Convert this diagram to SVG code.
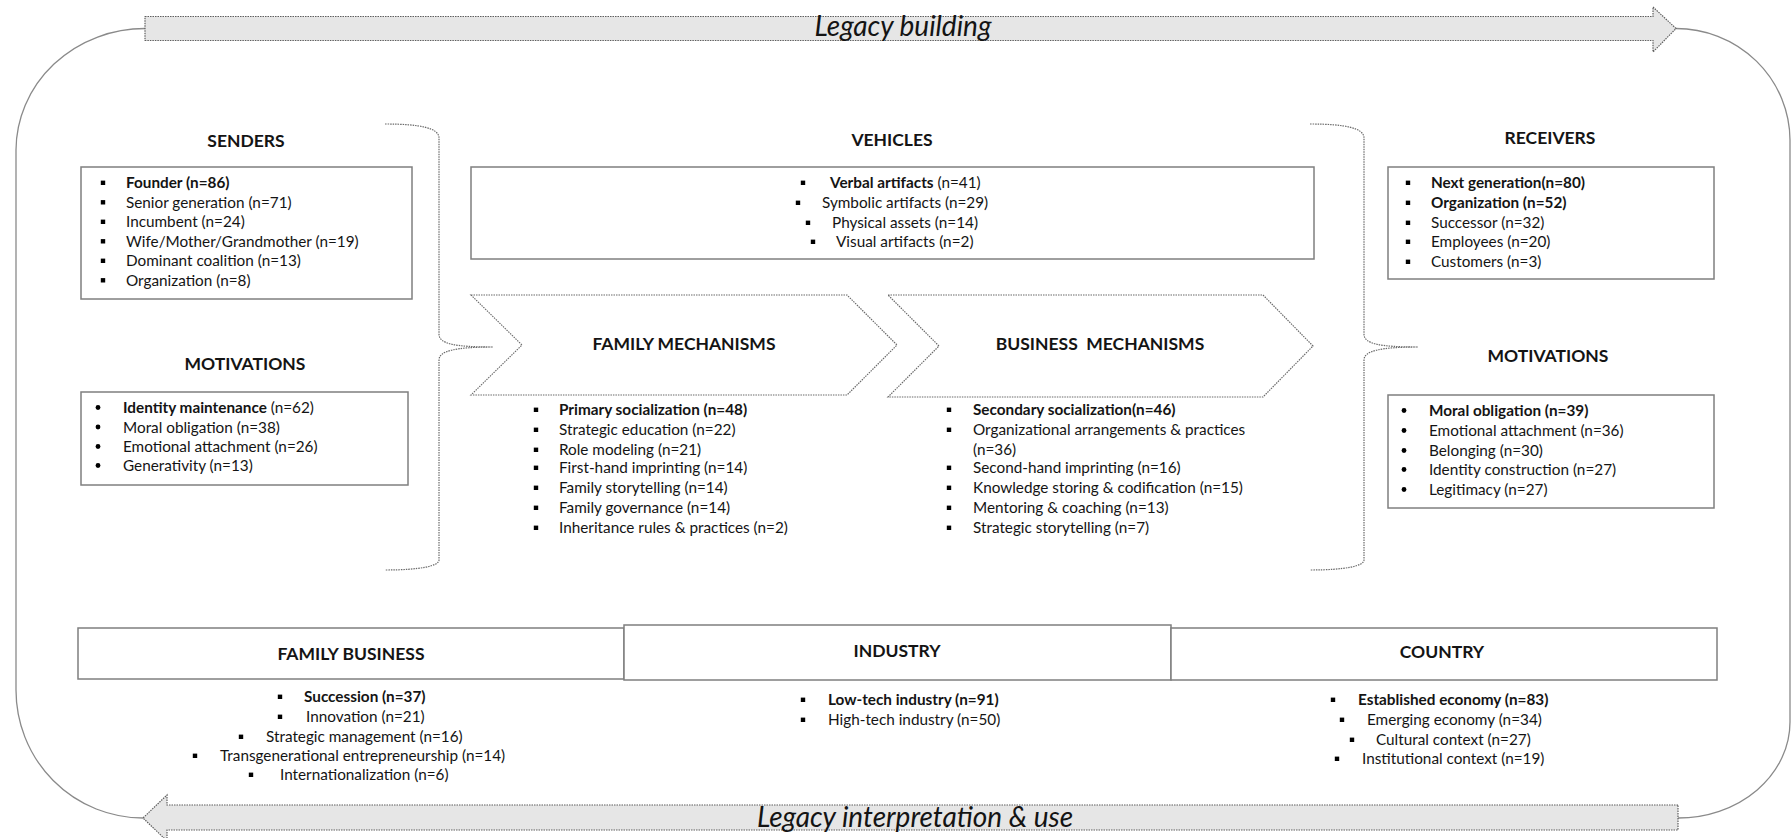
<svg xmlns="http://www.w3.org/2000/svg" width="1792" height="838" viewBox="0 0 1792 838">
<style>
  text { font-family: Lato, "Liberation Sans", sans-serif; fill: #141414; }
  .t { font-size: 15.3px; }
  .b { font-weight: bold; }
  .h { font-size: 17.5px; font-weight: bold; text-anchor: middle; }
  .lbl { font-size: 28px; font-style: italic; text-anchor: middle; }
  .box { fill: #ffffff; stroke: #7f7f7f; stroke-width: 1.5; }
  .chev { fill: #ffffff; stroke: #6a6a6a; stroke-width: 1.2; stroke-dasharray: 1.5 1; }
  .arrow { fill: #e6e6e6; stroke: #5f5f5f; stroke-width: 1.2; stroke-dasharray: 1.5 1; }
  .loop { fill: none; stroke: #8a8a8a; stroke-width: 1.3; }
  .brace { fill: none; stroke: #6a6a6a; stroke-width: 1.2; stroke-dasharray: 1.5 1; }
  .sq { fill: #000000; }
</style>
<defs>
  <rect id="sqb" class="sq" x="-2.2" y="-7.4" width="4.4" height="4.4"/>
  <circle id="rdb" class="sq" cx="0" cy="-5.5" r="2.4"/>
</defs>
<rect width="1792" height="838" fill="#ffffff"/>

<g id="connectors">
  <path class="loop" d="M145,28.5 A129,122 0 0 0 16,150 L16,690 A127,128 0 0 0 143,818"/>
  <path class="loop" d="M1676,28.5 A114,112 0 0 1 1790,140 L1790,722 A112,96 0 0 1 1678,818"/>
  <path class="brace" d="M385,124 C420,124 439,128 439,138 L439,334 C439,344 455,347 493,347 C455,347 439,351 439,360 L439,560 C439,566 420,570 385,570"/>
  <path class="brace" d="M1310,124 C1345,124 1364,128 1364,138 L1364,334 C1364,344 1380,347 1418,347 C1380,347 1364,351 1364,360 L1364,560 C1364,566 1345,570 1310,570"/>
</g>

<g id="legacy-building">
  <polygon class="arrow" points="145,16.5 1653,16.5 1653,7 1676,28.5 1653,52 1653,40.5 145,40.5"/>
  <text class="lbl" x="903" y="36">Legacy building</text>
</g>

<g id="legacy-interpretation">
  <polygon class="arrow" points="1678,805 167,805 167,795 143,818 167,841 167,830 1678,830"/>
  <text class="lbl" x="915" y="827">Legacy interpretation &amp; use</text>
</g>

<g id="senders">
  <text class="h" x="246" y="147">SENDERS</text>
  <rect class="box" x="81" y="167" width="331" height="132"/>
  <use href="#sqb" x="103" y="188"/><text class="t b" x="126" y="188">Founder (n=86)</text>
  <use href="#sqb" x="103" y="207.5"/><text class="t" x="126" y="207.5">Senior generation (n=71)</text>
  <use href="#sqb" x="103" y="227"/><text class="t" x="126" y="227">Incumbent (n=24)</text>
  <use href="#sqb" x="103" y="246.5"/><text class="t" x="126" y="246.5">Wife/Mother/Grandmother (n=19)</text>
  <use href="#sqb" x="103" y="266"/><text class="t" x="126" y="266">Dominant coalition (n=13)</text>
  <use href="#sqb" x="103" y="285.5"/><text class="t" x="126" y="285.5">Organization (n=8)</text>
</g>

<g id="sender-motivations">
  <text class="h" x="245" y="370">MOTIVATIONS</text>
  <rect class="box" x="81" y="392" width="327" height="93"/>
  <use href="#rdb" x="98" y="413"/><text class="t" x="123" y="413"><tspan class="b">Identity maintenance</tspan> (n=62)</text>
  <use href="#rdb" x="98" y="432.5"/><text class="t" x="123" y="432.5">Moral obligation (n=38)</text>
  <use href="#rdb" x="98" y="452"/><text class="t" x="123" y="452">Emotional attachment (n=26)</text>
  <use href="#rdb" x="98" y="471"/><text class="t" x="123" y="471">Generativity (n=13)</text>
</g>

<g id="vehicles">
  <text class="h" x="892" y="146">VEHICLES</text>
  <rect class="box" x="471" y="167" width="843" height="92"/>
  <use href="#sqb" x="803" y="188"/><text class="t" x="830" y="188"><tspan class="b">Verbal artifacts</tspan> (n=41)</text>
  <use href="#sqb" x="798" y="208"/><text class="t" x="822" y="208">Symbolic artifacts (n=29)</text>
  <use href="#sqb" x="808" y="228"/><text class="t" x="832" y="228">Physical assets (n=14)</text>
  <use href="#sqb" x="813" y="247"/><text class="t" x="836" y="247">Visual artifacts (n=2)</text>
</g>

<g id="family-mechanisms">
  <polygon class="chev" points="471,295 847,295 897,345 847,395 471,395 522,345"/>
  <text class="h" x="684" y="350">FAMILY MECHANISMS</text>
  <use href="#sqb" x="536" y="415"/><text class="t b" x="559" y="415">Primary socialization (n=48)</text>
  <use href="#sqb" x="536" y="435"/><text class="t" x="559" y="435">Strategic education (n=22)</text>
  <use href="#sqb" x="536" y="455"/><text class="t" x="559" y="455">Role modeling (n=21)</text>
  <use href="#sqb" x="536" y="473"/><text class="t" x="559" y="473">First-hand imprinting (n=14)</text>
  <use href="#sqb" x="536" y="493"/><text class="t" x="559" y="493">Family storytelling (n=14)</text>
  <use href="#sqb" x="536" y="513"/><text class="t" x="559" y="513">Family governance (n=14)</text>
  <use href="#sqb" x="536" y="533"/><text class="t" x="559" y="533">Inheritance rules &amp; practices (n=2)</text>
</g>

<g id="business-mechanisms">
  <polygon class="chev" points="888,295 1263,295 1313,346 1263,397 888,397 939,346"/>
  <text class="h" x="1100" y="350" xml:space="preserve">BUSINESS  MECHANISMS</text>
  <use href="#sqb" x="949" y="415"/><text class="t b" x="973" y="415">Secondary socialization(n=46)</text>
  <use href="#sqb" x="949" y="435"/><text class="t" x="973" y="435">Organizational arrangements &amp; practices</text>
  <text class="t" x="973" y="455">(n=36)</text>
  <use href="#sqb" x="949" y="473"/><text class="t" x="973" y="473">Second-hand imprinting (n=16)</text>
  <use href="#sqb" x="949" y="493"/><text class="t" x="973" y="493">Knowledge storing &amp; codification (n=15)</text>
  <use href="#sqb" x="949" y="513"/><text class="t" x="973" y="513">Mentoring &amp; coaching (n=13)</text>
  <use href="#sqb" x="949" y="533"/><text class="t" x="973" y="533">Strategic storytelling (n=7)</text>
</g>

<g id="receivers">
  <text class="h" x="1550" y="144">RECEIVERS</text>
  <rect class="box" x="1388" y="167" width="326" height="112"/>
  <use href="#sqb" x="1408" y="188"/><text class="t b" x="1431" y="188">Next generation(n=80)</text>
  <use href="#sqb" x="1408" y="208"/><text class="t b" x="1431" y="208">Organization (n=52)</text>
  <use href="#sqb" x="1408" y="228"/><text class="t" x="1431" y="228">Successor (n=32)</text>
  <use href="#sqb" x="1408" y="247"/><text class="t" x="1431" y="247">Employees (n=20)</text>
  <use href="#sqb" x="1408" y="267"/><text class="t" x="1431" y="267">Customers (n=3)</text>
</g>

<g id="receiver-motivations">
  <text class="h" x="1548" y="362">MOTIVATIONS</text>
  <rect class="box" x="1388" y="395" width="326" height="113"/>
  <use href="#rdb" x="1404" y="416"/><text class="t b" x="1429" y="416">Moral obligation (n=39)</text>
  <use href="#rdb" x="1404" y="436"/><text class="t" x="1429" y="436">Emotional attachment (n=36)</text>
  <use href="#rdb" x="1404" y="456"/><text class="t" x="1429" y="456">Belonging (n=30)</text>
  <use href="#rdb" x="1404" y="475"/><text class="t" x="1429" y="475">Identity construction (n=27)</text>
  <use href="#rdb" x="1404" y="495"/><text class="t" x="1429" y="495">Legitimacy (n=27)</text>
</g>

<g id="family-business">
  <rect class="box" x="78" y="628" width="546" height="51"/>
  <text class="h" x="351" y="660">FAMILY BUSINESS</text>
  <use href="#sqb" x="280" y="702"/><text class="t b" x="304" y="702">Succession (n=37)</text>
  <use href="#sqb" x="280" y="722"/><text class="t" x="306" y="722">Innovation (n=21)</text>
  <use href="#sqb" x="241" y="742"/><text class="t" x="266" y="742">Strategic management (n=16)</text>
  <use href="#sqb" x="195" y="761"/><text class="t" x="220" y="761">Transgenerational entrepreneurship (n=14)</text>
  <use href="#sqb" x="251" y="780"/><text class="t" x="280" y="780">Internationalization (n=6)</text>
</g>

<g id="industry">
  <rect class="box" x="624" y="625" width="547" height="55"/>
  <text class="h" x="897" y="657">INDUSTRY</text>
  <use href="#sqb" x="803" y="705"/><text class="t b" x="828" y="705">Low-tech industry (n=91)</text>
  <use href="#sqb" x="803" y="725"/><text class="t" x="828" y="725">High-tech industry (n=50)</text>
</g>

<g id="country">
  <rect class="box" x="1171" y="628" width="546" height="52"/>
  <text class="h" x="1442" y="658">COUNTRY</text>
  <use href="#sqb" x="1333" y="705"/><text class="t b" x="1358" y="705">Established economy (n=83)</text>
  <use href="#sqb" x="1342" y="725"/><text class="t" x="1367" y="725">Emerging economy (n=34)</text>
  <use href="#sqb" x="1352" y="745"/><text class="t" x="1376" y="745">Cultural context (n=27)</text>
  <use href="#sqb" x="1337" y="764"/><text class="t" x="1362" y="764">Institutional context (n=19)</text>
</g>
</svg>
